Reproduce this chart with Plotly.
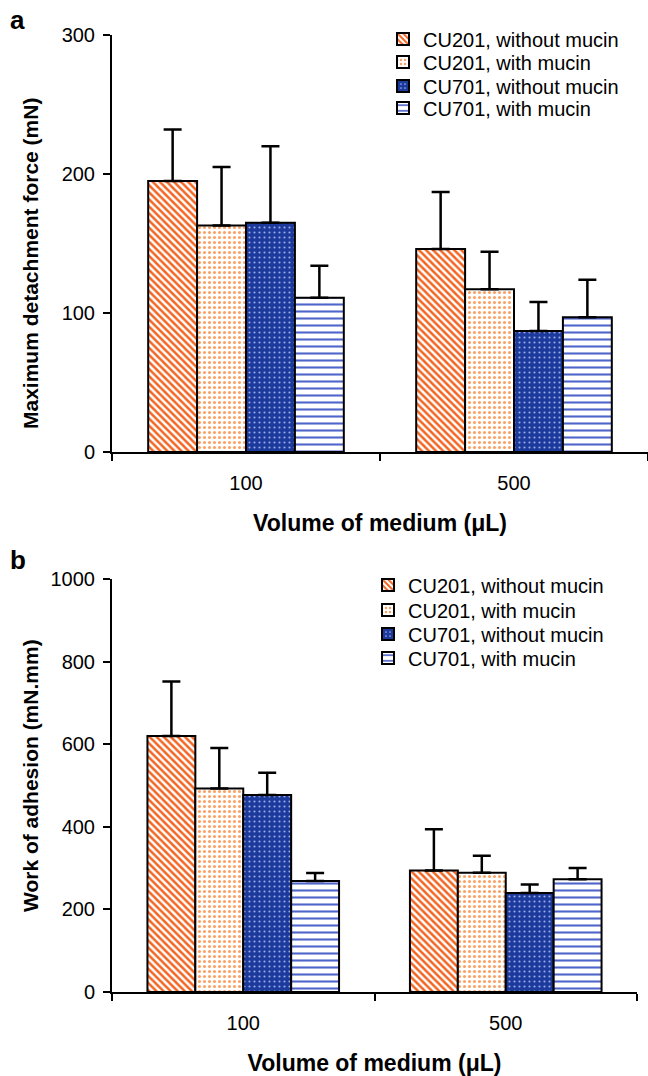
import plotly.graph_objects as go

categories = ["100", "500"]
series_names = ["CU201, without mucin", "CU201, with mucin",
                "CU701, without mucin", "CU701, with mucin"]

# Panel a: maximum detachment force (mN), values at [100, 500]
force_cu201_without = [195, 146]
force_cu201_with = [163, 117]
force_cu701_without = [165, 87]
force_cu701_with = [111, 97]
force_err_cu201_without = [37, 41]
force_err_cu201_with = [42, 27]
force_err_cu701_without = [55, 21]
force_err_cu701_with = [23, 27]

# Panel b: work of adhesion (mN.mm)
work_cu201_without = [620, 294]
work_cu201_with = [493, 289]
work_cu701_without = [477, 240]
work_cu701_with = [269, 273]
work_err_cu201_without = [132, 100]
work_err_cu201_with = [98, 41]
work_err_cu701_without = [54, 20]
work_err_cu701_with = [19, 27]

force_vals = [force_cu201_without, force_cu201_with, force_cu701_without, force_cu701_with]
force_errs = [force_err_cu201_without, force_err_cu201_with, force_err_cu701_without, force_err_cu701_with]
work_vals = [work_cu201_without, work_cu201_with, work_cu701_without, work_cu701_with]
work_errs = [work_err_cu201_without, work_err_cu201_with, work_err_cu701_without, work_err_cu701_with]

ORANGE = "#F26522"
LORANGE = "#F8A468"
BLUE = "#1C3A9C"
LBLUE = "#9AA9EA"
WAVE = "#4F65CA"

patterns = [
    dict(shape="\\", bgcolor="white", fgcolor=ORANGE, size=5, solidity=0.5, fillmode="replace"),
    dict(shape=".", bgcolor="white", fgcolor=LORANGE, size=5, solidity=0.3, fillmode="replace"),
    dict(shape=".", bgcolor=BLUE, fgcolor=LBLUE, size=5, solidity=0.15, fillmode="replace"),
    dict(shape="-", bgcolor="white", fgcolor=WAVE, size=7, solidity=0.3, fillmode="replace"),
]

FONT = "Liberation Sans, Arial, sans-serif"
W, H = 648, 1076


def px(x):
    return x / W


def py(y):
    return 1 - y / H


fig = go.Figure()
for i in range(4):
    fig.add_trace(go.Bar(
        x=categories, y=force_vals[i], name=series_names[i],
        xaxis="x", yaxis="y", legend="legend" if i == 0 else f"legend{i + 1}",
        marker=dict(color="white", pattern=patterns[i], line=dict(color="black", width=2)),
        error_y=dict(type="data", array=force_errs[i], arrayminus=[0, 0], symmetric=False,
                     color="black", thickness=2.5, width=9),
    ))
for i in range(4):
    fig.add_trace(go.Bar(
        x=categories, y=work_vals[i], name=series_names[i],
        xaxis="x2", yaxis="y2", legend=f"legend{i + 5}",
        marker=dict(color="white", pattern=patterns[i], line=dict(color="black", width=2)),
        error_y=dict(type="data", array=work_errs[i], arrayminus=[0, 0], symmetric=False,
                     color="black", thickness=2.5, width=9),
    ))

xcommon = dict(type="category", showline=True, linecolor="black", linewidth=2,
               ticks="outside", tickson="boundaries", ticklen=7, tickwidth=2, tickcolor="black",
               tickfont=dict(family=FONT, size=20, color="black"), showgrid=False, zeroline=False,
               ticklabelstandoff=12, range=[-0.5, 1.5], automargin=False)
ycommon = dict(showline=True, linecolor="black", linewidth=2, ticks="outside", ticklen=7,
               tickwidth=2, tickcolor="black", showgrid=False, zeroline=False,
               tickfont=dict(family=FONT, size=20, color="black"), ticklabelstandoff=4,
               automargin=False)

xtitle = dict(text="<b>Volume of medium (μL)</b>", font=dict(family=FONT, size=23, color="black"),
              standoff=22)

legend_rows_a = [39, 62, 86, 108]
legend_rows_b = [585, 610, 634, 658]
legends = {}
for k, yc in enumerate(legend_rows_a + legend_rows_b):
    key = "legend" if k == 0 else f"legend{k + 1}"
    xl = 383 if k < 4 else 368
    legends[key] = dict(x=px(xl), y=py(yc), xanchor="left", yanchor="middle",
                        font=dict(family=FONT, size=20, color="black"),
                        bgcolor="rgba(0,0,0,0)", borderwidth=0)

fig.update_layout(
    width=W, height=H, margin=dict(l=0, r=0, t=0, b=0, autoexpand=False),
    paper_bgcolor="white", plot_bgcolor="white",
    barmode="group", bargap=0.27, bargroupgap=0,
    xaxis=dict(xcommon, domain=[px(112), px(648)], anchor="y", title=xtitle),
    yaxis=dict(ycommon, domain=[py(452), py(35)], anchor="x", range=[0, 300],
               tickvals=[0, 100, 200, 300]),
    xaxis2=dict(xcommon, domain=[px(112), px(637)], anchor="y2", title=xtitle),
    yaxis2=dict(ycommon, domain=[py(992), py(579)], anchor="x2", range=[0, 1000],
                tickvals=[0, 200, 400, 600, 800, 1000]),
    showlegend=True,
    annotations=[
        dict(text="<b>a</b>", x=px(8), y=py(37), xref="paper", yref="paper", xanchor="left",
             yanchor="bottom", showarrow=False, font=dict(family=FONT, size=26, color="black")),
        dict(text="<b>b</b>", x=px(8), y=py(560), xref="paper", yref="paper", xanchor="left",
             yanchor="middle", showarrow=False, font=dict(family=FONT, size=26, color="black")),
        dict(text="<b>Maximum detachment force (mN)</b>", x=px(30), y=py(264), xref="paper",
             yref="paper", textangle=-90, showarrow=False, xanchor="center", yanchor="middle",
             font=dict(family=FONT, size=21, color="black")),
        dict(text="<b>Work of adhesion (mN.mm)</b>", x=px(30), y=py(776), xref="paper",
             yref="paper", textangle=-90, showarrow=False, xanchor="center", yanchor="middle",
             font=dict(family=FONT, size=21, color="black")),
    ],
    **legends,
)

fig.write_html("out.html")
